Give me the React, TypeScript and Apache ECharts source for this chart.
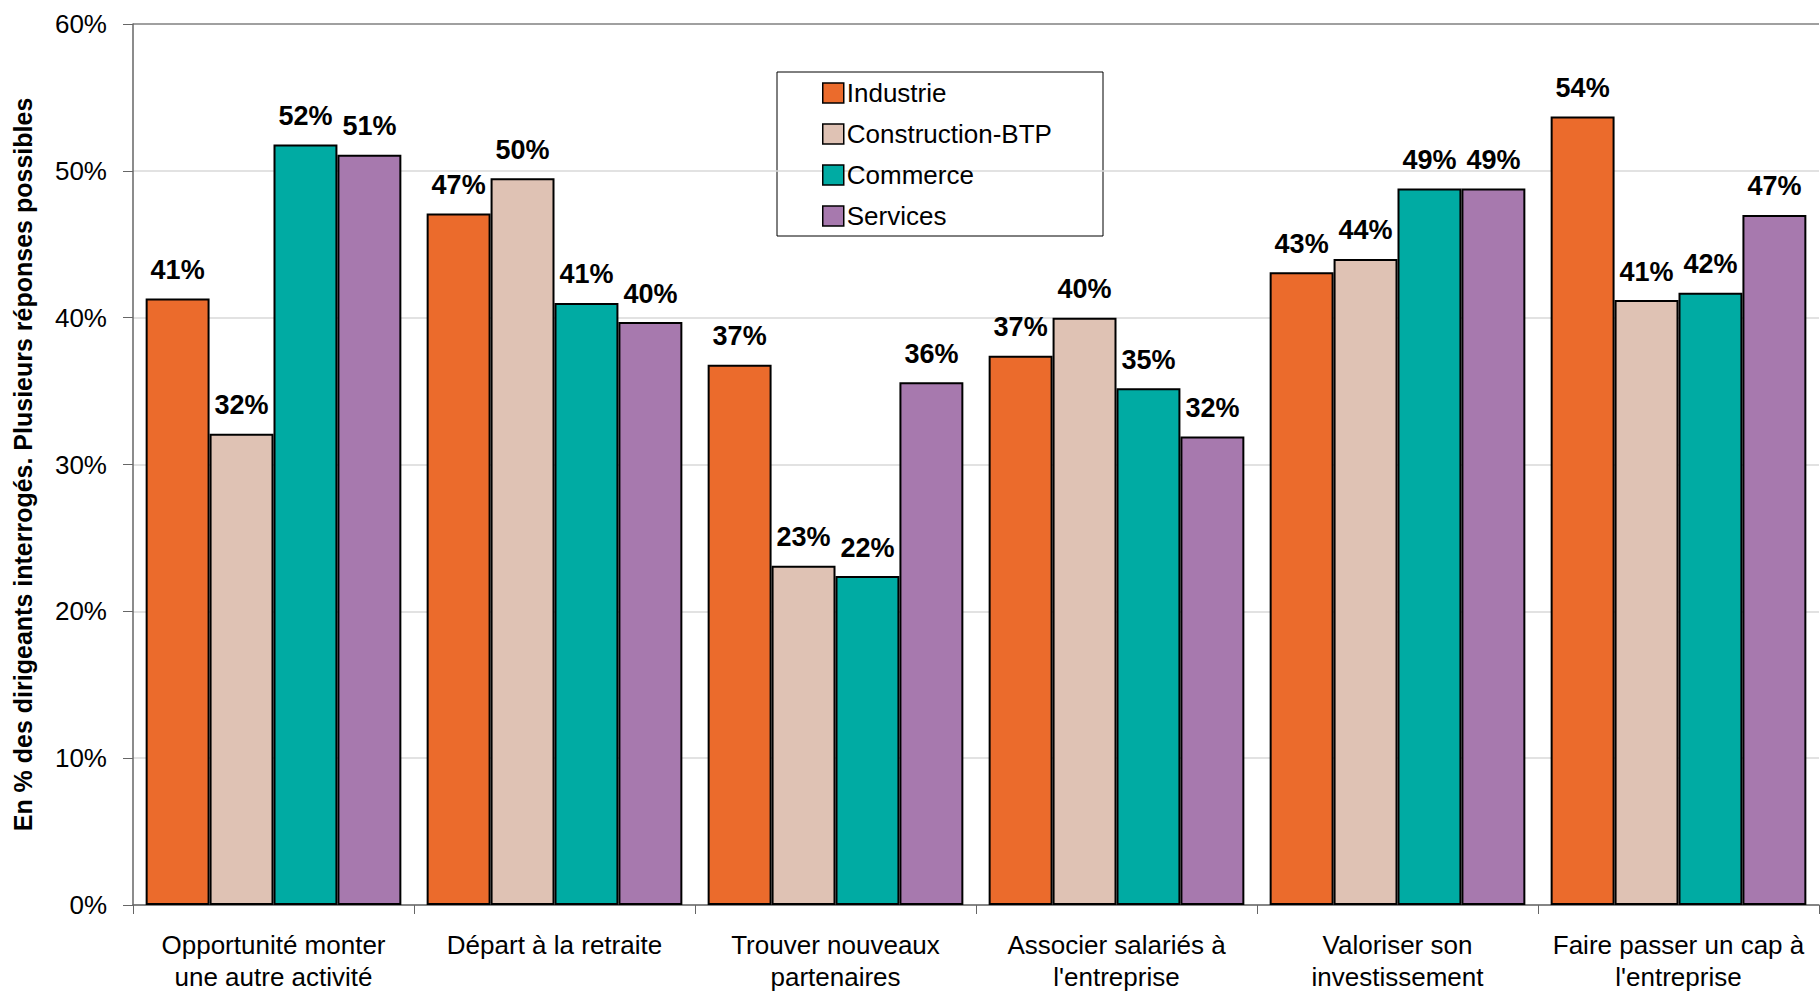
import React, { useEffect, useRef } from "react";
import * as echarts from "echarts";

const categories = [
  "Opportunité monter\nune autre activité",
  "Départ à la retraite",
  "Trouver nouveaux\npartenaires",
  "Associer salariés à\nl'entreprise",
  "Valoriser son\ninvestissement",
  "Faire passer un cap à\nl'entreprise",
];
const seriesNames = ["Industrie", "Construction-BTP", "Commerce", "Services"];
const industrie = [41.3, 47.1, 36.8, 37.4, 43.1, 53.7];
const construction = [32.1, 49.5, 23.1, 40.0, 44.0, 41.2];
const commerce = [51.8, 41.0, 22.4, 35.2, 48.8, 41.7];
const services = [51.1, 39.7, 35.6, 31.9, 48.8, 47.0];
const colors = ["#EB6B2C", "#DFC2B4", "#00ABA3", "#A779AE"];
const yTicks = [0, 10, 20, 30, 40, 50, 60];

export default function App() {
  const ref = useRef<HTMLDivElement>(null);
  useEffect(() => {
    document.body.style.margin = "0";
    const chart = echarts.init(ref.current!, null, { renderer: "svg" });
    const values = [industrie, construction, commerce, services];
    const font = "'Liberation Sans', Arial, sans-serif";
    chart.setOption({
      animation: false,
      textStyle: { fontFamily: font },
      grid: { left: 133, right: 1, top: 24, bottom: 87, containLabel: false, outerBoundsMode: "none" },
      legend: {
        left: 822,
        top: 80,
        orient: "vertical",
        itemWidth: 21,
        itemHeight: 20,
        itemGap: 15,
        padding: 0,
        icon: "rect",
        itemStyle: { borderColor: "#000", borderWidth: 1.5 },
        textStyle: { fontSize: 26, color: "#000", fontFamily: font, padding: [0, 0, 0, -2] },
        data: seriesNames,
      },
      graphic: [
        {
          type: "rect",
          shape: { x: 777, y: 72, width: 326, height: 164 },
          style: { fill: "#fff", stroke: "#000", lineWidth: 1 },
          z: -1,
          zlevel: 0,
        },
      ],
      xAxis: {
        type: "category",
        data: categories,
        axisLine: { lineStyle: { color: "#666", width: 1.5 } },
        axisTick: { show: true, length: 9, lineStyle: { color: "#666" } },
        axisLabel: {
          fontSize: 26,
          color: "#000",
          lineHeight: 32,
          margin: 24,
          interval: 0,
          overflow: "none",
          hideOverlap: false,
          fontFamily: font,
        },
      },
      yAxis: {
        type: "value",
        min: 0,
        max: 60,
        interval: 10,
        name: "En % des dirigeants interrogés. Plusieurs réponses possibles",
        nameLocation: "middle",
        nameRotate: 90,
        nameGap: 98,
        nameTextStyle: { fontSize: 25, fontWeight: "bold", color: "#000", fontFamily: font },
        axisLine: { show: true, lineStyle: { color: "#666", width: 1.5 } },
        axisTick: { show: true, length: 10, lineStyle: { color: "#666" } },
        axisLabel: {
          fontSize: 26,
          color: "#000",
          margin: 26,
          formatter: (v: number) => (yTicks.includes(v) ? v + "%" : ""),
          fontFamily: font,
        },
        splitLine: {
          show: true,
          lineStyle: {
            color: ["#D9D9D9", "#D9D9D9", "#D9D9D9", "#D9D9D9", "#D9D9D9", "#D9D9D9", "#808080"],
            width: 1.5,
          },
        },
      },
      series: seriesNames.map((name, i) => ({
        name,
        type: "bar",
        data: values[i],
        barGap: "0%",
        barCategoryGap: "9%",
        itemStyle: { color: colors[i], borderColor: "#000", borderWidth: 2 },
        label: {
          show: true,
          position: "top",
          distance: 15,
          fontSize: 27,
          fontWeight: "bold",
          color: "#000",
          fontFamily: font,
          formatter: (p: any) => Math.round(p.value) + "%",
        },
      })),
    });
    return () => chart.dispose();
  }, []);
  return <div ref={ref} style={{ width: 1820, height: 992, background: "#fff" }} />;
}
